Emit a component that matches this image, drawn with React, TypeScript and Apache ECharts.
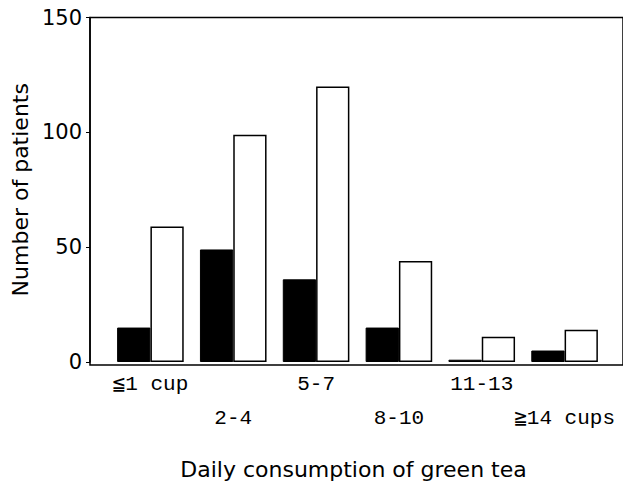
import React, { useEffect, useRef } from "react";
import * as echarts from "echarts";

const categories = ["≦1 cup", "2-4", "5-7", "8-10", "11-13", "≧14 cups"];
const blackValues = [15, 49, 36, 15, 1, 5];
const whiteValues = [59, 99, 120, 44, 11, 14];
const yTicks = { min: 0, max: 150, interval: 50 };

export default function App() {
  const ref = useRef<HTMLDivElement>(null);
  useEffect(() => {
    if (!ref.current) return;
    const chart = echarts.init(ref.current, null, { renderer: "svg" });
    const sans = "'DejaVu Sans', sans-serif";
    const mono = "'Liberation Mono', 'DejaVu Sans Mono', monospace";
    chart.setOption({
      animation: false,
      backgroundColor: "#fff",
      grid: [
        { left: 109, right: 17, top: 17.5, bottom: 120 },
        {
          left: 90,
          right: -5,
          top: 17.5,
          bottom: 120,
          show: true,
          borderColor: "#000",
          borderWidth: 1.5,
          backgroundColor: "transparent",
        },
      ],
      xAxis: [
        {
          type: "category",
          gridIndex: 0,
          data: categories,
          axisLine: { show: false },
          axisTick: { show: false },
          axisLabel: {
            interval: 0,
            margin: 5,
            fontFamily: mono,
            fontSize: 21,
            color: "#000",
            lineHeight: 34,
            formatter: (v: string, i: number) => (i % 2 === 1 ? "\n" + v : v),
          },
          name: "Daily consumption of green tea",
          nameLocation: "middle",
          nameGap: 96,
          nameTextStyle: {
            fontFamily: sans,
            fontSize: 22,
            color: "#000",
            padding: [0, 8, 0, 0],
          },
        },
        { type: "value", gridIndex: 1, show: false },
      ],
      yAxis: [
        {
          type: "value",
          gridIndex: 0,
          min: yTicks.min,
          max: yTicks.max,
          interval: yTicks.interval,
          offset: 19,
          axisLine: { show: true, lineStyle: { color: "#000", width: 1.5 } },
          axisTick: { show: true, length: 4, lineStyle: { color: "#000", width: 1 } },
          splitLine: { show: false },
          axisLabel: {
            margin: 8,
            fontFamily: sans,
            fontSize: 21,
            color: "#000",
          },
          name: "Number of patients",
          nameLocation: "middle",
          nameGap: 56,
          nameTextStyle: { fontFamily: sans, fontSize: 22, color: "#000" },
        },
        { type: "value", gridIndex: 1, show: false },
      ],
      series: [
        {
          type: "bar",
          xAxisIndex: 0,
          yAxisIndex: 0,
          data: blackValues,
          barGap: "0%",
          barCategoryGap: "19.6%",
          itemStyle: { color: "#000", borderColor: "#000", borderWidth: 1 },
        },
        {
          type: "bar",
          xAxisIndex: 0,
          yAxisIndex: 0,
          data: whiteValues,
          barGap: "0%",
          barCategoryGap: "19.6%",
          itemStyle: { color: "#fff", borderColor: "#000", borderWidth: 1.5 },
        },
      ],
    });
    return () => chart.dispose();
  }, []);
  return (
    <div
      ref={ref}
      style={{ position: "fixed", left: 0, top: 0, width: 623, height: 485 }}
    />
  );
}
